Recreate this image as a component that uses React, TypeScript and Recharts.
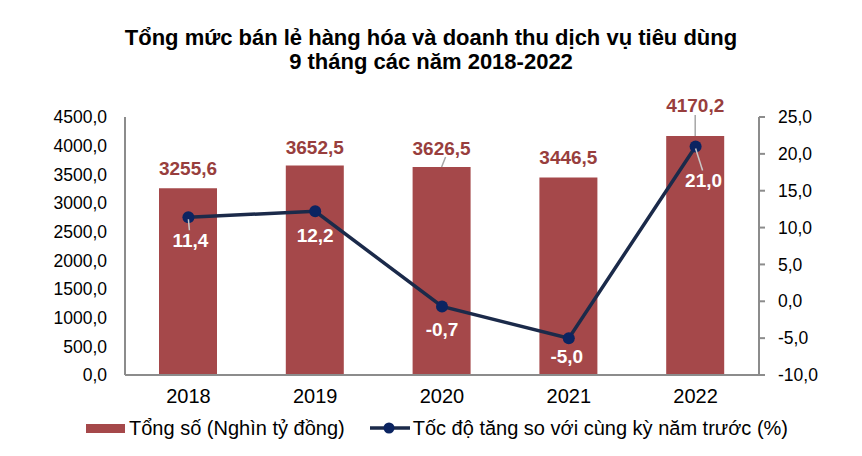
import { ComposedChart, Bar, Line, XAxis, YAxis, LabelList, Legend } from "recharts";

const years = ["2018", "2019", "2020", "2021", "2022"];
const totals = [3255.6, 3652.5, 3626.5, 3446.5, 4170.2];
const growth = [11.4, 12.2, -0.7, -5.0, 21.0];
const leftTicks = [0, 500, 1000, 1500, 2000, 2500, 3000, 3500, 4000, 4500];
const rightTicks = [-10, -5, 0, 5, 10, 15, 20, 25];

const data = years.map((year, i) => ({ year, total: totals[i], growth: growth[i] }));

// label nudges (px) so the labels sit where the original puts them
const barLabelLift = [20, 18, 19, 20, 30];
const barLeader = [false, false, true, false, true];
const lineLabelDrop = [23, 24, 23, 18, 34];
const lineLabelShift = [2, 0, 0, -2, 8];
const lineLeader = [true, false, false, false, true];

const BAR = "#A5484A";
const BAR_TEXT = "#983E3D";
const LINE = "#1B2A4A";
const DOT = "#0B2461";
const AXIS = "#8C8C8C";
const FONT = "'Liberation Sans', Arial, sans-serif";

const fmt = (v: number) => v.toFixed(1).replace(".", ",");

function BarLabel(props: any) {
  const { x, y, width, value, index } = props;
  const cx = x + width / 2;
  const cy = y - barLabelLift[index];
  return (
    <g>
      {barLeader[index] && (
        <line x1={cx + (index === 2 ? 4 : 0)} y1={cy + 9} x2={cx} y2={y} stroke="#A6A6A6" strokeWidth={1.5} />
      )}
      <text x={cx} y={cy} dy={6.5} textAnchor="middle" fill={BAR_TEXT} fontFamily={FONT} fontWeight="bold" fontSize={19}>
        {fmt(value)}
      </text>
    </g>
  );
}

function LineLabel(props: any) {
  const { x, y, value, index } = props;
  const cx = x + lineLabelShift[index];
  const cy = y + lineLabelDrop[index];
  return (
    <g>
      {lineLeader[index] && (
        <line x1={x} y1={y + 2} x2={cx - 1} y2={cy - 10} stroke="#C8C8C8" strokeWidth={1.5} />
      )}
      <text x={cx} y={cy} dy={6.5} textAnchor="middle" fill="#FFFFFF" fontFamily={FONT} fontWeight="bold" fontSize={19}>
        {fmt(value)}
      </text>
    </g>
  );
}

function ChartLegend() {
  return (
    <div style={{ display: "flex", alignItems: "center", fontFamily: FONT, fontSize: 20, color: "#000", height: 24, paddingLeft: 86 }}>
      <span style={{ display: "inline-block", width: 39, height: 9, background: BAR, marginRight: 4 }} />
      <span>Tổng số (Nghìn tỷ đồng)</span>
      <svg width={42} height={14} style={{ marginLeft: 24, marginRight: 2 }}>
        <line x1={1} y1={7} x2={41} y2={7} stroke={LINE} strokeWidth={3.5} />
        <circle cx={20} cy={7} r={5.5} fill={DOT} />
      </svg>
      <span>Tốc độ tăng so với cùng kỳ năm trước (%)</span>
    </div>
  );
}

export default function App() {
  return (
    <div style={{ position: "absolute", left: 0, top: 0, width: 862, height: 456, background: "#fff" }}>
      <div
        style={{
          position: "absolute",
          top: 26,
          left: 0,
          width: 862,
          textAlign: "center",
          fontFamily: FONT,
          fontWeight: "bold",
          fontSize: 22,
          lineHeight: "24px",
          color: "#000",
        }}
      >
        Tổng mức bán lẻ hàng hóa và doanh thu dịch vụ tiêu dùng
        <br />9 tháng các năm 2018-2022
      </div>
      <ComposedChart width={862} height={456} data={data} margin={{ top: 117, right: 20, left: 20, bottom: 27 }}>
        <XAxis
          dataKey="year"
          tickLine={false}
          axisLine={{ stroke: AXIS, strokeWidth: 2 }}
          height={30}
          tickMargin={8}
          tick={{ fill: "#000", fontSize: 20, fontFamily: FONT }}
        />
        <YAxis
          yAxisId="left"
          domain={[0, 4500]}
          ticks={leftTicks}
          tickFormatter={fmt}
          width={105}
          tickLine={false}
          axisLine={{ stroke: AXIS, strokeWidth: 2 }}
          tickMargin={12}
          interval={0}
          tick={{ fill: "#000", fontSize: 17.5, fontFamily: FONT }}
        />
        <YAxis
          yAxisId="right"
          orientation="right"
          domain={[-10, 25]}
          ticks={rightTicks}
          tickFormatter={fmt}
          width={83}
          tickLine={{ stroke: AXIS, strokeWidth: 2 }}
          tickSize={6}
          axisLine={{ stroke: AXIS, strokeWidth: 2 }}
          tickMargin={13}
          interval={0}
          tick={{ fill: "#000", fontSize: 17.5, fontFamily: FONT }}
        />
        <Bar yAxisId="left" dataKey="total" fill={BAR} barSize={58} isAnimationActive={false}>
          <LabelList dataKey="total" content={<BarLabel />} />
        </Bar>
        <Line
          yAxisId="right"
          dataKey="growth"
          stroke={LINE}
          strokeWidth={3.5}
          dot={{ r: 6, fill: DOT, stroke: DOT, strokeWidth: 0 }}
          activeDot={false}
          isAnimationActive={false}
        >
          <LabelList dataKey="growth" content={<LineLabel />} />
        </Line>
        <Legend verticalAlign="bottom" content={<ChartLegend />} wrapperStyle={{ left: 0, width: 862, bottom: 16 }} />
      </ComposedChart>
    </div>
  );
}
